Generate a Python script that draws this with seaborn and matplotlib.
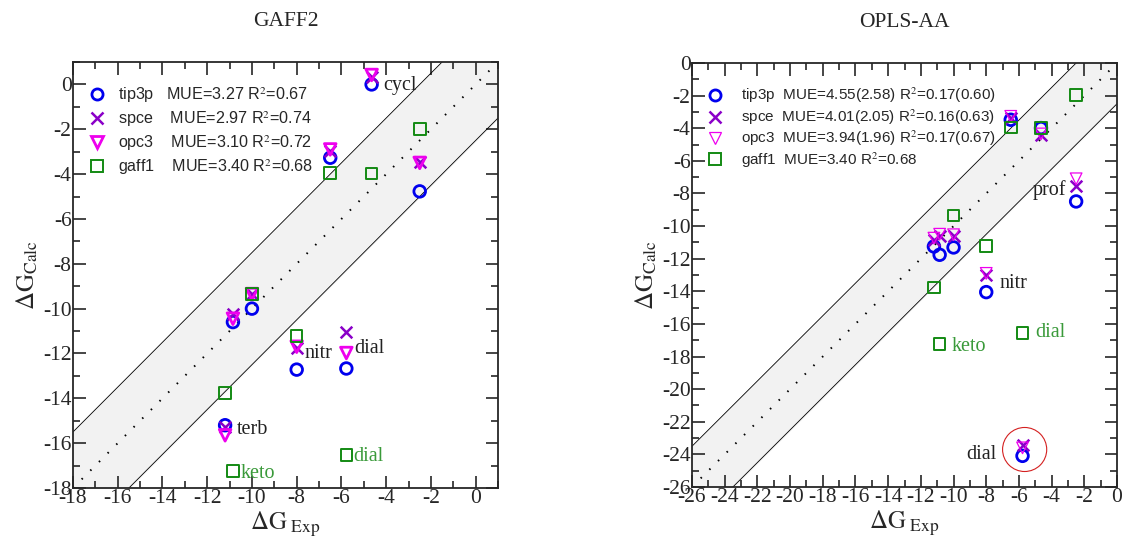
import numpy as np
import pandas as pd
import matplotlib
matplotlib.use("Agg")
import matplotlib.pyplot as plt
import seaborn as sns
from matplotlib.lines import Line2D
from matplotlib.patches import Circle

sns.set_style("ticks")
plt.rcParams["font.family"] = ["Liberation Serif", "DejaVu Serif"]
plt.rcParams["mathtext.fontset"] = "stix"
plt.rcParams["axes.unicode_minus"] = False

# compounds (same order in both panels)
compounds = ["cycl", "c2", "prof", "c5", "keto", "nitr", "dial", "terb"]
dg_exp = [-4.65, -6.5, -2.5, -10.0, -10.85, -8.0, -5.78, -11.2]

# GAFF2 calculated values
gaff2_tip3p = [0.0, -3.27, -4.77, -10.0, -10.6, -12.72, -12.67, -15.2]
gaff2_spce = [0.35, -2.95, -3.45, -9.35, -10.25, -11.75, -11.04, -15.3]
gaff2_opc3 = [0.42, -2.9, -3.5, -9.35, -10.45, -11.7, -11.98, -15.65]
gaff1 = [-3.98, -3.95, -1.98, -9.35, -17.24, -11.23, -16.54, -13.76]

# OPLS-AA calculated values
opls_tip3p = [-3.99, -3.48, -8.49, -11.31, -11.76, -14.05, -24.09, -11.25]
opls_spce = [-4.4, -3.37, -7.57, -10.63, -10.63, -13.03, -23.4, -10.84]
opls_opc3 = [-4.35, -3.27, -7.1, -10.53, -10.5, -12.9, -23.6, -10.74]

band = 2.5

gaff2_legend = {
    "tip3p": "tip3p   MUE=3.27 R$^2$=0.67",
    "spce": "spce    MUE=2.97 R$^2$=0.74",
    "opc3": "opc3    MUE=3.10 R$^2$=0.72",
    "gaff1": "gaff1    MUE=3.40 R$^2$=0.68",
}
opls_legend = {
    "tip3p": "tip3p  MUE=4.55(2.58) R$^2$=0.17(0.60)",
    "spce": "spce  MUE=4.01(2.05) R$^2$=0.16(0.63)",
    "opc3": "opc3  MUE=3.94(1.96) R$^2$=0.17(0.67)",
    "gaff1": "gaff1  MUE=3.40 R$^2$=0.68",
}

gaff2_notes = [("cycl", -4.15, -0.05, "#222222"), ("nitr", -7.63, -11.98, "#222222"),
               ("dial", -5.41, -11.78, "#222222"), ("terb", -10.67, -15.39, "#222222"),
               ("keto", -10.52, -17.36, "#3a9a3a"), ("dial", -5.48, -16.58, "#3a9a3a")]
opls_notes = [("prof", -5.18, -7.77, "#222222"), ("nitr", -7.16, -13.5, "#222222"),
              ("keto", -10.14, -17.38, "#3a9a3a"), ("dial", -4.98, -16.52, "#3a9a3a"),
              ("dial", -9.2, -24.03, "#222222")]

styles = {
    "tip3p": dict(marker="o", color="#0000ee", lw=2.0),
    "spce": dict(marker="x", color="#8a00c8", lw=1.8),
    "opc3": dict(marker="v", color="#ee00ee", lw=1.5),
    "gaff1": dict(marker="s", color="#138a13", lw=1.4),
}

sans = ["Liberation Sans", "DejaVu Sans"]


def draw_panel(ax, series, lim, title, legend_labels, notes, leg_font, leg_anchor,
               leg_spacing, leg_pad, opc3_lw):
    lo, hi = lim
    xs = np.array([lo, hi])
    ax.fill_between(xs, xs - band, xs + band, color="#f2f2f2", zorder=0)
    ax.plot(xs, xs + band, color="black", lw=0.6, zorder=1)
    ax.plot(xs, xs - band, color="black", lw=0.6, zorder=1)
    ax.plot(xs, xs, color="black", lw=1.4, ls=(0, (0.8, 5.5)), zorder=1)

    handles = []
    for name, vals in series:
        st = styles[name]
        lw = opc3_lw if name == "opc3" else st["lw"]
        df = pd.DataFrame({"exp": dg_exp, "calc": vals})
        if st["marker"] == "x":
            sns.scatterplot(data=df, x="exp", y="calc", ax=ax, marker="x",
                            color=st["color"], s=70, linewidth=lw, zorder=3)
        else:
            sns.scatterplot(data=df, x="exp", y="calc", ax=ax, marker=st["marker"],
                            color=st["color"], facecolor="none", edgecolor=st["color"],
                            s=70, linewidth=lw, zorder=3)
        handles.append(Line2D([], [], ls="none", marker=st["marker"], markersize=8,
                              markerfacecolor="none", markeredgecolor=st["color"],
                              markeredgewidth=lw))
    labels = [legend_labels[name] for name, _ in series]
    ax.legend(handles, labels, loc="upper left", bbox_to_anchor=leg_anchor,
              frameon=False, borderpad=0, borderaxespad=0, handlelength=1.0,
              handletextpad=leg_pad, labelspacing=leg_spacing,
              prop={"family": sans, "size": leg_font})

    for txt, x, y, c in notes:
        ax.text(x, y, txt, color=c, fontsize=14.5, va="center", ha="left", zorder=4)

    ax.set_xlim(lo, hi)
    ax.set_ylim(lo, hi)
    ax.set_xticks(np.arange(lim[0], 0.1, 2))
    ax.set_yticks(np.arange(lim[0], 0.1, 2))
    ax.set_xticks(np.arange(lim[0], hi + 0.01, 1), minor=True)
    ax.set_yticks(np.arange(lim[0], hi + 0.01, 1), minor=True)
    ax.tick_params(which="both", direction="in", top=True, right=True, width=1.2,
                   labelsize=15.5, pad=1)
    ax.tick_params(which="major", length=9)
    ax.tick_params(which="minor", length=5)
    for lab in ax.get_xticklabels() + ax.get_yticklabels():
        lab.set_fontfamily(["Liberation Serif", "DejaVu Serif"])
    for sp in ax.spines.values():
        sp.set_linewidth(1.3)
    ax.set_title(title, fontsize=15.5, pad=26)
    ax.set_xlabel(r"$\Delta\mathrm{G}_{\ \mathrm{Exp}}$", fontsize=18, labelpad=1)
    ax.set_ylabel(r"$\Delta\mathrm{G}_{\mathrm{Calc}}$", fontsize=18, labelpad=2)


fig = plt.figure(figsize=(11.22, 5.44), dpi=100)
ax1 = fig.add_axes([73 / 1122, 1 - 488 / 544, 425 / 1122, 426 / 544])
ax2 = fig.add_axes([692 / 1122, 1 - 487 / 544, 425 / 1122, 424 / 544])

draw_panel(ax1,
           [("tip3p", gaff2_tip3p), ("spce", gaff2_spce), ("opc3", gaff2_opc3), ("gaff1", gaff1)],
           (-18, 1), "GAFF2", gaff2_legend, gaff2_notes, 11.6, (0.038, 0.946), 0.28, 0.8, 2.0)
draw_panel(ax2,
           [("tip3p", opls_tip3p), ("spce", opls_spce), ("opc3", opls_opc3), ("gaff1", gaff1)],
           (-26, 0), "OPLS-AA", opls_legend, opls_notes, 11.0, (0.035, 0.946), 0.12, 1.25, 0.9)

ax2.add_patch(Circle((-5.65, -23.7), 1.35, fill=False, edgecolor="#d42020", lw=0.8, zorder=2))

fig.savefig("out.png", dpi=100)
